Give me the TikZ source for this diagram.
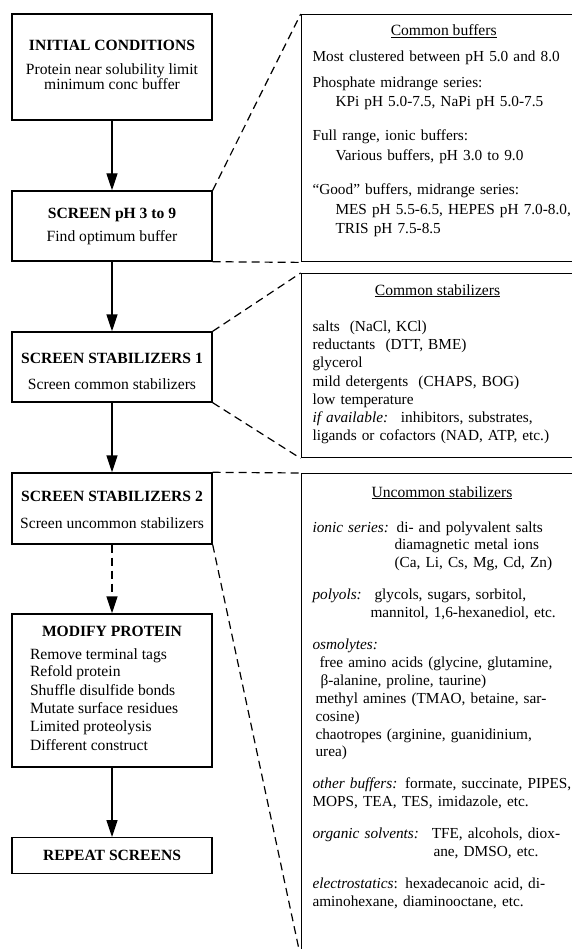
\documentclass[tikz,border=0pt]{standalone}
\usepackage{fontspec}
\setmainfont{Liberation Serif}
\usetikzlibrary{arrows.meta}

\tikzset{
  stage/.style={draw, line width=1.4pt, minimum width=200pt, inner sep=0pt, align=center},
  panel/.style={draw, line width=1.4pt, minimum width=283pt, inner sep=0pt, anchor=north west},
  flow/.style={line width=1.4pt, -{Triangle[length=17pt,width=11pt]}},
  zoomline/.style={line width=1.2pt, dash pattern=on 8pt off 5pt},
  paneltitle/.style={anchor=base, inner sep=0pt},
  body/.style={anchor=base west, text width=272pt, align=left, inner sep=0pt}
}
% struts to push a box text up or down
\newcommand{\padtop}[1]{\rule{0pt}{#1}}
\newcommand{\padbot}[1]{\rule[-#1]{0pt}{#1}}

\begin{document}
\begin{tikzpicture}[x=1pt, y=-1pt, every node/.style={font=\fontsize{15.6}{18}\selectfont}]
\useasboundingbox (0,0) rectangle (572,949);
\clip (0,0) rectangle (572,949);

% screening steps
\node[stage, minimum height=106pt] (init) at (112,67)
  {\textbf{INITIAL CONDITIONS}\\[6.5pt]Protein near solubility limit\\[-3pt]minimum conc buffer\padbot{4.8pt}};
\node[stage, minimum height=70pt] (phscreen) at (112,226)
  {\textbf{SCREEN pH 3 to 9}\\[5pt]Find optimum buffer};
\node[stage, minimum height=70pt] (stabone) at (112,367)
  {\padtop{20pt}\textbf{SCREEN STABILIZERS 1}\\[8pt]Screen common stabilizers};
\node[stage, minimum height=71pt] (stabtwo) at (112,508.5)
  {\padtop{13pt}\textbf{SCREEN STABILIZERS 2}\\[9pt]Screen uncommon stabilizers};
\node[stage, minimum height=153pt, align=left] (modify) at (112,690.5)
  {\makebox[164pt][c]{\textbf{MODIFY PROTEIN}}\\[5pt]
   Remove terminal tags\\[-1pt]Refold protein\\[1pt]Shuffle disulfide bonds\\
   Mutate surface residues\\Limited proteolysis\\[1pt]Different construct\padbot{4pt}};
\node[stage, minimum height=35.5pt] (repeat) at (112,855.5) {\textbf{REPEAT SCREENS}};

\draw[flow] (init) -- (phscreen);
\draw[flow] (phscreen) -- (stabone);
\draw[flow] (stabone) -- (stabtwo);
\draw[flow, dash pattern=on 8pt off 5pt] (stabtwo) -- (modify);
\draw[flow] (modify) -- (repeat);

% detail panels
\node[panel, minimum height=247pt] (buffers) at (300.7,14) {};
\node[panel, minimum height=184pt] (commonstab) at (300.7,273) {};
\node[panel, minimum height=483pt] (uncommonstab) at (300.7,473) {};

\node[paneltitle] (bufferstitle) at (443.7,36) {\underline{Common buffers}};
\node[body, font=\fontsize{15.3}{18}\selectfont] (bufferstext) at (312.3,61.7)
  {Most clustered between pH 5.0 and 8.0\\[8.3pt]
   Phosphate midrange series:\\[1pt]
   \hspace*{23pt}KPi pH 5.0-7.5, NaPi pH 5.0-7.5\\[16pt]
   Full range, ionic buffers:\\[2pt]
   \hspace*{23pt}Various buffers, pH 3.0 to 9.0\\[16pt]
   “Good” buffers, midrange series:\\[1.5pt]
   \hspace*{23pt}MES pH 5.5-6.5, HEPES pH 7.0-8.0,\\[1pt]
   \hspace*{23pt}TRIS pH 7.5-8.5};

\node[paneltitle] (commontitle) at (437.5,295) {\underline{Common stabilizers}};
\node[body, font=\fontsize{15.3}{18.1}\selectfont] (commontext) at (312.3,331.7)
  {salts~ (NaCl, KCl)\\
   reductants~ (DTT, BME)\\
   glycerol\\
   mild detergents~ (CHAPS, BOG)\\
   low temperature\\
   \textit{if available:}~ inhibitors, substrates,\\
   ligands or cofactors (NAD, ATP, etc.)};

\node[paneltitle] (uncommontitle) at (442,497) {\underline{Uncommon stabilizers}};
\node[body, font=\fontsize{15.3}{17.9}\selectfont] (uncommontext) at (312.3,532)
  {\textit{ionic series:} di- and polyvalent salts\\
   \hspace*{82pt}diamagnetic metal ions\\
   \hspace*{82pt}(Ca, Li, Cs, Mg, Cd, Zn)\\[14pt]
   \textit{polyols:}~ glycols, sugars, sorbitol,\\
   \hspace*{58pt}mannitol, 1,6-hexanediol, etc.\\[14pt]
   \textit{osmolytes:}\\
   \hspace*{7pt}free amino acids (glycine, glutamine,\\
   \hspace*{8pt}β-alanine, proline, taurine)\\
   \hspace*{3pt}methyl amines (TMAO, betaine, sar-\\
   \hspace*{3pt}cosine)\\
   \hspace*{3pt}chaotropes (arginine, guanidinium,\\
   \hspace*{3pt}urea)\\[14pt]
   \textit{other buffers:} formate, succinate, PIPES,\\
   MOPS, TEA, TES, imidazole, etc.\\[14pt]
   \textit{organic solvents:}~ TFE, alcohols, diox-\\
   \hspace*{121pt}ane, DMSO, etc.\\[14pt]
   \textit{electrostatics}: hexadecanoic acid, di-\\
   aminohexane, diaminooctane, etc.};

% zoom connectors
\draw[zoomline] (phscreen.north east) -- (buffers.north west);
\draw[zoomline] (phscreen.south east) -- (buffers.south west);
\draw[zoomline] (stabone.north east) -- (commonstab.north west);
\draw[zoomline] (stabone.south east) -- (commonstab.south west);
\draw[zoomline] (stabtwo.north east) -- (uncommonstab.north west);
\draw[zoomline] (stabtwo.south east) -- (uncommonstab.south west);
\end{tikzpicture}
\end{document}
